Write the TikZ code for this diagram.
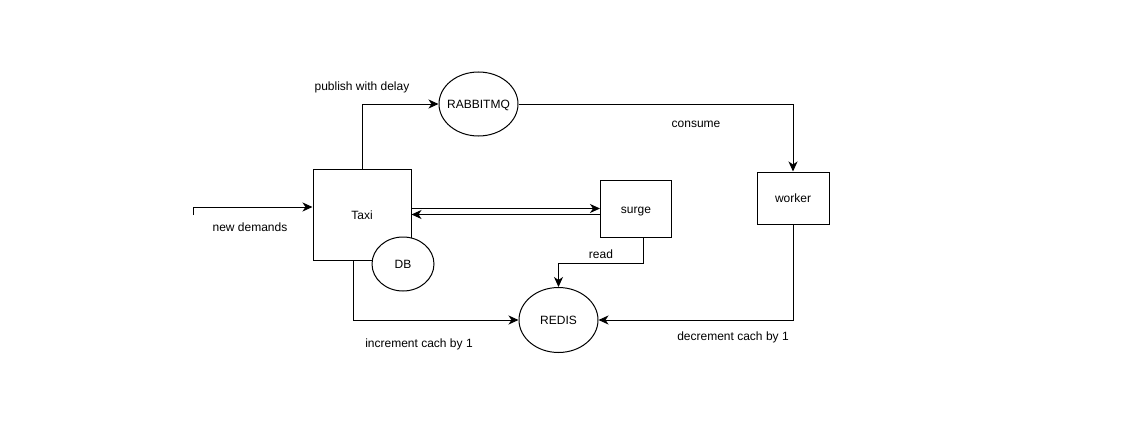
\documentclass[tikz,border=0pt]{standalone}
\usepackage{fontspec}
\setmainfont{Liberation Sans}
\usetikzlibrary{arrows.meta,shapes.geometric}

\tikzset{
  box/.style={shape=rectangle, draw=black, line width=1pt, inner sep=0pt, text height=10pt, text depth=1pt},
  blob/.style={shape=ellipse, draw=black, fill=white, line width=1pt, inner sep=0pt, text height=10pt, text depth=1pt},
  flow/.style={-{Stealth[length=10pt,width=9pt,inset=3pt]}, line width=1pt, draw=black},
  note/.style={inner sep=0pt, text=black}
}

\begin{document}
\begin{tikzpicture}[x=1pt, y=-1pt, font=\fontsize{12}{14}\selectfont]
\useasboundingbox (0,0) rectangle (1138,444);
\node[box, minimum width=98pt, minimum height=91pt] (taxi) at (362,214.5) {Taxi};
\node[blob, minimum width=62pt, minimum height=54pt] (db) at (403,264) {DB};
\node[blob, inner xsep=-7pt, minimum width=79pt, minimum height=64pt] (rabbit) at (478.5,104) {RABBITMQ};
\node[box, minimum width=71pt, minimum height=57pt] (surge) at (636,208.5) {surge};
\node[box, minimum width=72pt, minimum height=52pt] (worker) at (793,198) {worker};
\node[blob, minimum width=79pt, minimum height=65pt] (redis) at (558.5,320) {REDIS};
\coordinate (input) at (193,215);
\coordinate (demand) at (193,207);
\coordinate (readbend) at (643,263);
\node[note] (lpublish) at (362,87) {publish with delay};
\node[note] (lconsume) at (696,124) {consume};
\node[note] (ldemands) at (250,227) {new demands};
\node[note] (lread) at (601,254) {read};
\node[note] (lincr) at (419,344) {increment cach by 1};
\node[note] (ldecr) at (733,337) {decrement cach by 1};
\draw[line width=1pt] (input) -- (demand);
\draw[flow] (demand) -- (demand -| taxi.west);
\draw[flow] (taxi.north) |- (rabbit.west);
\draw[flow] (rabbit.east) -| (worker.north);
\draw[flow] (taxi.east |- surge.west) -- (surge.west);
\draw[flow] (surge.west |- taxi.east) -- (taxi.east);
\draw[flow] (surge.south -| readbend) -- (readbend) -| (redis.north);
\draw[flow] (worker.south) |- (redis.east);
\draw[flow] ([xshift=-9pt]taxi.south) |- (redis.west);
\end{tikzpicture}
\end{document}
